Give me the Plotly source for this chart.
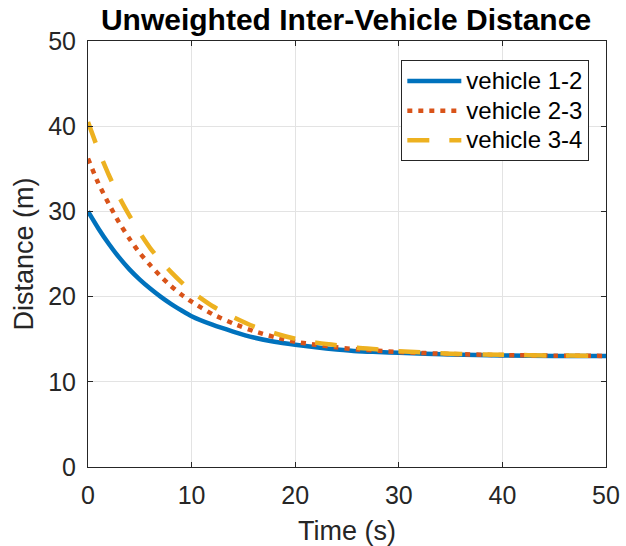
import plotly.graph_objects as go

# Time samples (s)
time_s = [0, 1, 2, 3, 4, 5, 6, 7, 8, 9, 10, 12, 14, 16, 18, 20, 22, 24, 26, 28, 30, 35, 40, 45, 50]

# Inter-vehicle distances (m)
vehicle_12 = [30.0, 28.0, 26.2, 24.6, 23.2, 22.0, 20.95, 20.0, 19.15, 18.4, 17.7, 16.7, 15.9, 15.2, 14.7,
              14.35, 14.05, 13.8, 13.6, 13.5, 13.4, 13.2, 13.1, 13.04, 13.02]
vehicle_23 = [36.2, 33.3, 30.9, 28.7, 26.8, 25.1, 23.7, 22.4, 21.25, 20.25, 19.4, 17.95, 16.85, 15.95, 15.25,
              14.7, 14.35, 14.05, 13.8, 13.65, 13.5, 13.26, 13.14, 13.07, 13.04]
vehicle_34 = [40.5, 37.2, 34.3, 31.7, 29.5, 27.5, 25.7, 24.2, 22.9, 21.7, 20.6, 18.9, 17.6, 16.5, 15.7,
              15.05, 14.6, 14.3, 14.0, 13.8, 13.6, 13.3, 13.17, 13.09, 13.05]

series_names = ["vehicle 1-2", "vehicle 2-3", "vehicle 3-4"]
series_values = [vehicle_12, vehicle_23, vehicle_34]
series_colors = ["#0072BD", "#D95319", "#EDB120"]
series_dash = ["solid", "5px,6px", "22px,20px"]

x_ticks = [0, 10, 20, 30, 40, 50]
y_ticks = [0, 10, 20, 30, 40, 50]

font_family = "Liberation Sans, Arial, Helvetica, sans-serif"
axis_color = "#262626"

FIG_W, FIG_H = 626, 546

fig = go.Figure()
for name, vals, col, dash in zip(series_names, series_values, series_colors, series_dash):
    fig.add_trace(go.Scatter(
        x=time_s, y=vals, mode="lines",
        name='<span style="font-size:24px">' + name + '</span>',
        line=dict(color=col, width=4.5, dash=dash, shape="spline", smoothing=0.6),
    ))

axis_common = dict(
    showline=True, linecolor=axis_color, linewidth=1, mirror="ticks",
    ticks="inside", ticklen=5, tickcolor=axis_color, tickwidth=1,
    showgrid=True, gridcolor="#e3e3e3", gridwidth=1, zeroline=False,
    tickfont=dict(family=font_family, size=25, color=axis_color),
    automargin=False,
)

fig.update_layout(
    width=FIG_W, height=FIG_H,
    margin=dict(l=88, r=20, t=41, b=79),
    paper_bgcolor="white", plot_bgcolor="white",
    font=dict(family=font_family, color=axis_color),
    title=dict(
        text="<b>Unweighted Inter-Vehicle Distance</b>",
        font=dict(family=font_family, size=30, color="black"),
        x=346 / FIG_W, xanchor="center", xref="container",
        y=1 - 19 / FIG_H, yanchor="middle", yref="container",
    ),
    xaxis=dict(
        range=[0, 50], tickvals=x_ticks, ticktext=[str(v) for v in x_ticks],
        title=dict(text="Time (s)", font=dict(family=font_family, size=27, color=axis_color), standoff=13),
        ticklabelstandoff=6,
        **axis_common,
    ),
    yaxis=dict(
        range=[0, 50], tickvals=y_ticks, ticktext=[str(v) for v in y_ticks],
        title=dict(text="Distance (m)", font=dict(family=font_family, size=27, color=axis_color), standoff=6),
        ticklabelstandoff=6,
        **axis_common,
    ),
    legend=dict(
        x=0.9678, y=0.955, xanchor="right", yanchor="top",
        bgcolor="white", bordercolor=axis_color, borderwidth=1,
        font=dict(family=font_family, size=20.5, color="black"),
        itemwidth=54, tracegroupgap=0,
    ),
    showlegend=True,
)

# Remove the browser's default 8px page margin so the figure fills the window.
fig.write_html(
    "out.html",
    config={"displayModeBar": False},
    post_script="document.body.style.margin='0';",
)
